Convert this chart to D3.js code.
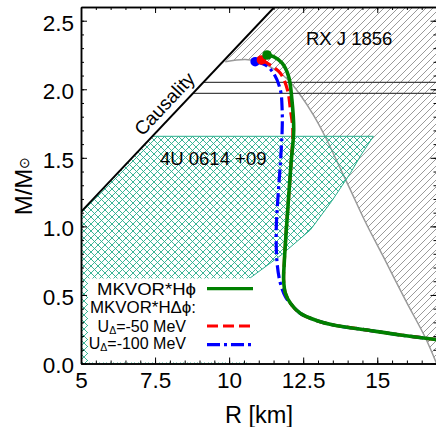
<!DOCTYPE html>
<html>
<head>
<meta charset="utf-8">
<script src="https://cdn.jsdelivr.net/npm/d3@7"></script>
<style>
  body { margin: 0; background: #fff; }
  svg { display: block; }
  text { font-family: "Liberation Sans", Arial, Helvetica, sans-serif; }
</style>
</head>
<body>
<svg id="chart" width="436" height="427"></svg>
<script>
// ---- Data: mass-radius relations and observational constraints ----

// MKVOR*Hphi (green, solid)
const hphiR = [11.28, 11.50, 11.79, 12.01, 12.12, 12.18, 12.09, 12.01, 11.93, 11.86, 11.84, 11.90, 12.07, 12.40, 12.97, 13.52, 14.66, 15.78, 16.91, 17.0];
const hphiM = [2.250, 2.238, 2.190, 2.092, 1.922, 1.703, 1.460, 1.217, 0.974, 0.731, 0.609, 0.512, 0.439, 0.366, 0.312, 0.281, 0.244, 0.208, 0.177, 0.175];

// MKVOR*HDeltaphi, U_Delta = -50 MeV (red, dashed)
const u50R = [11.09, 11.39, 11.73, 11.97, 12.07, 12.15, 12.09, 12.01, 11.93, 11.86, 11.84, 11.90, 12.07, 12.40, 12.97, 13.52, 14.66, 15.78, 16.91, 17.0];
const u50M = [2.214, 2.177, 2.117, 1.995, 1.849, 1.703, 1.460, 1.217, 0.974, 0.731, 0.609, 0.512, 0.439, 0.366, 0.312, 0.281, 0.244, 0.208, 0.177, 0.175];

// MKVOR*HDeltaphi, U_Delta = -100 MeV (blue, dash-dot)
const u100R = [10.88, 11.22, 11.50, 11.73, 11.79, 11.79, 11.73, 11.65, 11.59, 11.62, 11.73, 11.90, 12.07, 12.40, 12.97, 13.52, 14.66, 15.78, 16.91, 17.0];
const u100M = [2.201, 2.177, 2.117, 1.995, 1.849, 1.703, 1.460, 1.217, 0.974, 0.731, 0.585, 0.487, 0.439, 0.366, 0.312, 0.281, 0.244, 0.208, 0.177, 0.175];

// Causality limit (straight line)
const causalR = [5.0, 11.53];
const causalM = [1.106, 2.600];

// PSR J0348+0432 mass band
const psrM = [1.97, 2.05];

// RX J 1856 boundary (hatched region lies above / right of it)
const rxR = [9.868, 10.544, 11.051, 11.558, 11.998, 12.404, 12.843, 13.249, 13.587, 14.094, 14.601, 15.210, 15.953, 16.629, 17.0];
const rxM = [2.201, 2.217, 2.199, 2.141, 2.068, 1.958, 1.813, 1.652, 1.499, 1.266, 1.032, 0.777, 0.462, 0.186, 0.0];

// 4U 0614 +09 region (polygon: top edge, curved right edge, then down to the axis)
const uR = [7.41, 14.87, 14.45, 14.09, 13.45, 12.74, 11.75, 10.71, 10.71, 5.0, 5.0];
const uM = [1.657, 1.657, 1.520, 1.387, 1.180, 0.974, 0.790, 0.624, 0.0, 0.0, 1.106];

// Axis ticks
const xMajor = [5, 7.5, 10, 12.5, 15];
const xMinor = d3.range(5, 17.001, 0.5);
const yMajor = [0, 0.5, 1.0, 1.5, 2.0, 2.5];
const yMinor = d3.range(0, 2.6001, 0.1);

// Legend entries
const legendRows = [
  { text: "MKVOR*H\u03D5", style: "solid", color: "#008000" },
  { text: "MKVOR*H\u0394\u03D5:", style: null, color: null },
  { text: "=-50 MeV", sub: true, style: "dash", color: "#ff0000" },
  { text: "=-100 MeV", sub: true, style: "dashdot", color: "#0000ff" }
];

// ---- Layout ----
const plot = { left: 81, right: 436.5, top: 7, bottom: 363.5 };
const x = d3.scaleLinear().domain([5, 17]).range([plot.left, plot.right]);
const y = d3.scaleLinear().domain([0, 2.6]).range([plot.bottom, plot.top]);

const svg = d3.select("#chart");
const defs = svg.append("defs");

defs.append("clipPath").attr("id", "plotClip")
  .append("rect")
  .attr("x", plot.left).attr("y", plot.top)
  .attr("width", plot.right - plot.left).attr("height", plot.bottom - plot.top);

const grayHatch = defs.append("pattern").attr("id", "grayHatch")
  .attr("patternUnits", "userSpaceOnUse").attr("width", 7).attr("height", 7);
grayHatch.append("path")
  .attr("d", "M-1,1 L1,-1 M0,7 L7,0 M6,8 L8,6")
  .attr("stroke", "#8f8f8f").attr("stroke-width", 0.9).attr("fill", "none");

const tealColor = "#27ad8b";
const tealHatch = defs.append("pattern").attr("id", "tealHatch")
  .attr("patternUnits", "userSpaceOnUse").attr("width", 7).attr("height", 7);
tealHatch.append("path")
  .attr("d", "M-1,1 L1,-1 M0,7 L7,0 M6,8 L8,6 M-1,6 L1,8 M0,0 L7,7 M6,-1 L8,1")
  .attr("stroke", tealColor).attr("stroke-width", 0.9).attr("fill", "none");

const zip = (rs, ms) => rs.map((r, i) => [r, ms[i]]);
const line = d3.line().x(d => x(d[0])).y(d => y(d[1]));
const smooth = d3.line().x(d => x(d[0])).y(d => y(d[1])).curve(d3.curveCatmullRom.alpha(0.5));

const g = svg.append("g").attr("clip-path", "url(#plotClip)");

// R on the causality line for a given M
const causalAt = m => causalR[0] + (m - causalM[0]) * (causalR[1] - causalR[0]) / (causalM[1] - causalM[0]);

// RX J 1856 hatched region: boundary curve, right edge, top edge, causality line
const rxPts = zip(rxR, rxM);
g.append("path")
  .attr("d", smooth(rxPts) +
        "L" + x(17.5) + "," + y(-0.1) +
        "L" + x(17.5) + "," + y(2.7) +
        "L" + x(causalAt(2.7)) + "," + y(2.7) + "Z")
  .attr("fill", "url(#grayHatch)").attr("stroke", "none");
g.append("path")
  .attr("d", smooth(rxPts))
  .attr("fill", "none").attr("stroke", "#9a9a9a").attr("stroke-width", 1.5);

// 4U 0614 +09 region
const uPts = zip(uR, uM);
g.append("path")
  .attr("d", line(uPts) + "Z")
  .attr("fill", "url(#tealHatch)").attr("stroke", "none");
g.append("path")
  .attr("d", line(uPts.slice(0, 8)))
  .attr("fill", "none").attr("stroke", tealColor).attr("stroke-width", 1);

// PSR mass band lines
psrM.forEach(m => {
  g.append("line")
    .attr("x1", x(causalAt(m))).attr("x2", x(17.5))
    .attr("y1", y(m)).attr("y2", y(m))
    .attr("stroke", "#444").attr("stroke-width", 1.2);
});

// causality line
g.append("path")
  .attr("d", line(zip(causalR, causalM)))
  .attr("stroke", "#000").attr("stroke-width", 2).attr("fill", "none");

// legend background
svg.append("rect")
  .attr("x", 88).attr("y", 278.5).attr("width", 170).attr("height", 84)
  .attr("fill", "#fff");

// mass-radius curves
const curves = [
  { pts: zip(u100R, u100M), color: "#0000ff", dash: "13,4,3,4", w: 3.2 },
  { pts: zip(u50R, u50M), color: "#ff0000", dash: "11,5", w: 3.2 },
  { pts: zip(hphiR, hphiM), color: "#008000", dash: null, w: 3.6 }
];
curves.forEach(c => {
  g.append("path")
    .attr("d", smooth(c.pts))
    .attr("fill", "none").attr("stroke", c.color).attr("stroke-width", c.w)
    .attr("stroke-dasharray", c.dash);
});
curves.forEach(c => {
  g.append("circle")
    .attr("cx", x(c.pts[0][0])).attr("cy", y(c.pts[0][1])).attr("r", 4.8)
    .attr("fill", c.color);
});

// ---- Axes ----
function styleAxis(sel) {
  sel.attr("font-size", null).attr("font-family", null);
  sel.select(".domain").attr("stroke", "#000").attr("stroke-width", 1.5);
  sel.selectAll(".tick line").attr("stroke", "#000").attr("stroke-width", 1);
  sel.selectAll(".tick text").attr("fill", "#000").style("font-size", "22.5px");
}
const fmtX = d => String(d);
const fmtY = d3.format(".1f");

svg.append("g").attr("transform", `translate(0,${plot.bottom})`)
  .call(d3.axisBottom(x).tickValues(xMinor).tickSize(-3).tickSizeOuter(0).tickFormat(""))
  .call(styleAxis);
svg.append("g").attr("transform", `translate(0,${plot.bottom})`)
  .call(d3.axisBottom(x).tickValues(xMajor).tickSize(-6).tickSizeOuter(0).tickPadding(9).tickFormat(fmtX))
  .call(styleAxis);
svg.append("g").attr("transform", `translate(0,${plot.top})`)
  .call(d3.axisTop(x).tickValues(xMinor).tickSize(-3).tickSizeOuter(0).tickFormat(""))
  .call(styleAxis);
svg.append("g").attr("transform", `translate(0,${plot.top})`)
  .call(d3.axisTop(x).tickValues(xMajor).tickSize(-6).tickSizeOuter(0).tickFormat(""))
  .call(styleAxis);

svg.append("g").attr("transform", `translate(${plot.left},0)`)
  .call(d3.axisLeft(y).tickValues(yMinor).tickSize(-3).tickSizeOuter(0).tickFormat(""))
  .call(styleAxis);
const yAx = svg.append("g").attr("transform", `translate(${plot.left},0)`)
  .call(d3.axisLeft(y).tickValues(yMajor).tickSize(-6).tickSizeOuter(0).tickPadding(7).tickFormat(fmtY))
  .call(styleAxis);
yAx.selectAll(".tick text").attr("dy", "0.42em");
svg.append("g").attr("transform", `translate(${plot.right},0)`)
  .call(d3.axisRight(y).tickValues(yMinor).tickSize(-3).tickSizeOuter(0).tickFormat(""))
  .call(styleAxis);
svg.append("g").attr("transform", `translate(${plot.right},0)`)
  .call(d3.axisRight(y).tickValues(yMajor).tickSize(-6).tickSizeOuter(0).tickFormat(""))
  .call(styleAxis);

// axis titles
svg.append("text")
  .attr("x", 259).attr("y", 422.5).attr("text-anchor", "middle")
  .style("font-size", "23.5px").text("R [km]");
const yTitle = svg.append("text")
  .attr("transform", "translate(32,186) rotate(-90)")
  .attr("text-anchor", "middle").style("font-size", "24px");
yTitle.append("tspan").text("M/M");
yTitle.append("tspan").attr("dy", "-3").style("font-size", "14px").text("\u2299");

// region labels
svg.append("text").attr("x", 306).attr("y", 45).style("font-size", "18.5px").text("RX J 1856");
svg.append("text").attr("x", 160).attr("y", 165).style("font-size", "18.5px").text("4U 0614 +09");

const cR = 8.15, cM = causalM[0] + (cR - causalR[0]) * (causalM[1] - causalM[0]) / (causalR[1] - causalR[0]);
const ang = Math.atan2(y(causalM[1]) - y(causalM[0]), x(causalR[1]) - x(causalR[0])) * 180 / Math.PI;
const nx = Math.sin(-ang * Math.PI / 180), ny = Math.cos(-ang * Math.PI / 180);
svg.append("text")
  .attr("transform", `translate(${x(cR) - nx * 7},${y(cM) - ny * 7}) rotate(${ang})`)
  .attr("text-anchor", "middle").style("font-size", "19px").text("Causality");

// ---- Legend ----
const legendY = [294.7, 313, 331.5, 348.5];
const sampleY = [288.7, null, 326, 344.7];
const anchorX = [196, 196, 186, 186];
const textW = [99, 106, null, null];
legendRows.forEach((row, i) => {
  const t = svg.append("text").attr("x", anchorX[i]).attr("y", legendY[i])
    .attr("text-anchor", "end").style("font-size", "16px");
  if (textW[i]) t.attr("textLength", textW[i]).attr("lengthAdjust", "spacingAndGlyphs");
  if (row.sub) {
    t.append("tspan").text("U");
    t.append("tspan").attr("dy", "2.5").style("font-size", "10.5px").text("\u0394");
    t.append("tspan").attr("dy", "-2.5").text(row.text);
  } else {
    t.text(row.text);
  }
  if (row.style) {
    svg.append("line")
      .attr("x1", 207).attr("x2", 253).attr("y1", sampleY[i]).attr("y2", sampleY[i])
      .attr("stroke", row.color).attr("stroke-width", 3.2)
      .attr("stroke-dasharray", row.style === "dash" ? "11,5" : row.style === "dashdot" ? "13,4,3,4" : null);
  }
});
</script>
</body>
</html>
